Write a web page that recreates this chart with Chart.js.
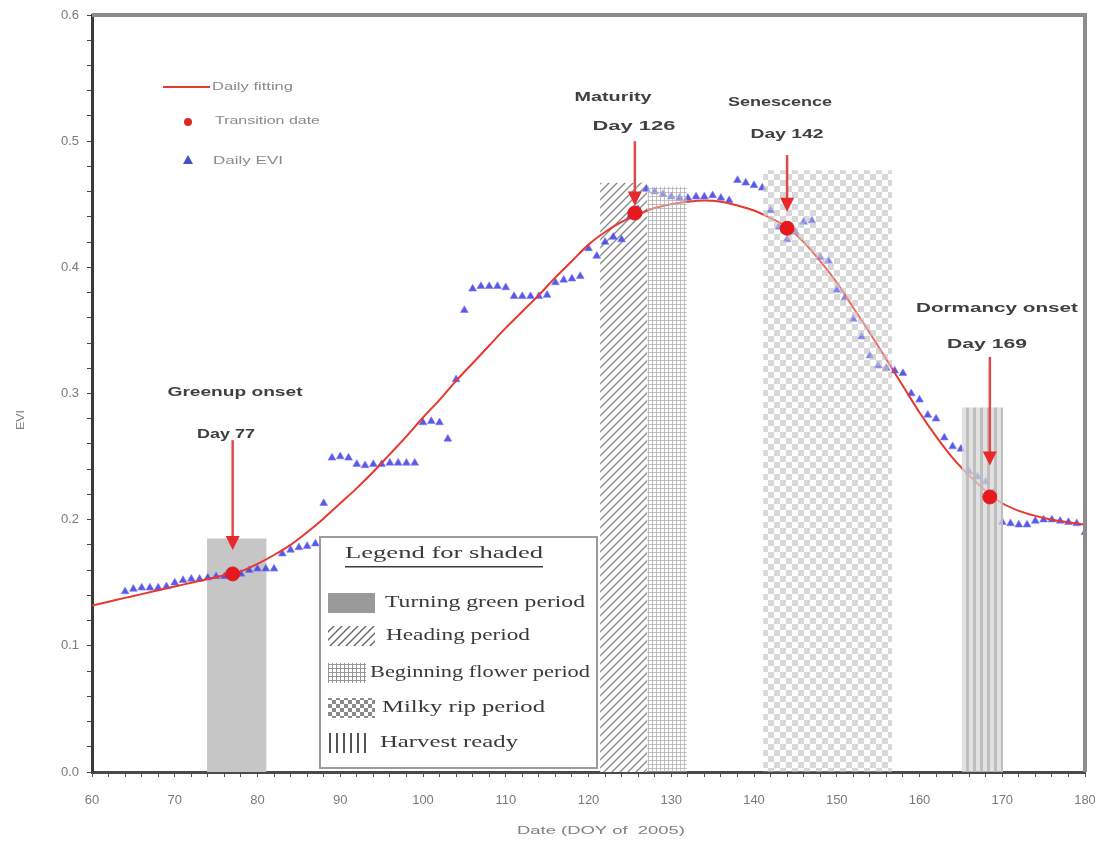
<!DOCTYPE html>
<html lang="en">
<head>
  <meta charset="UTF-8" />
  <title>EVI phenology 2005</title>
  <script src="https://cdn.jsdelivr.net/npm/chart.js"></script>
  <style>
    body { margin: 0; background: #fff; }
    #wrap { width: 1095px; height: 844px; }
  </style>
</head>
<body>

<div id="wrap">
  <canvas id="eviChart"></canvas>
</div>

<script>
// fitted daily curve (every 2 days)
const fitDays = [60,62,64,66,68,70,72,74,76,77,78,80,82,84,86,88,90,92,94,96,98,100,102,104,106,108,110,112,114,116,118,120,122,124,126,128,130,132,134,136,138,140,142,144,146,148,150,152,154,156,158,160,162,164,166,168,170,172,174,176,178,180];
const fitEVI = [0.132,0.135,0.138,0.141,0.144,0.147,0.150,0.153,0.156,0.157,0.159,0.165,0.172,0.180,0.190,0.201,0.213,0.225,0.238,0.252,0.266,0.281,0.295,0.310,0.324,0.338,0.352,0.365,0.378,0.392,0.405,0.418,0.428,0.436,0.442,0.447,0.450,0.452,0.453,0.452,0.449,0.445,0.439,0.432,0.420,0.405,0.388,0.368,0.348,0.327,0.306,0.285,0.266,0.249,0.235,0.223,0.213,0.207,0.203,0.200,0.198,0.196];

// daily EVI observations
const eviDays = [64,65,66,67,68,69,70,71,72,73,74,75,76,77,78,79,80,81,82,83,84,85,86,87,88,89,90,91,92,93,94,95,96,97,98,99,100,101,102,103,104,105,106,107,108,109,110,111,112,113,114,115,116,117,118,119,120,121,122,123,124,125,126,127,128,129,130,131,132,133,134,135,136,137,138,139,140,141,142,143,144,145,146,147,148,149,150,151,152,153,154,155,156,157,158,159,160,161,162,163,164,165,166,167,168,169,170,171,172,173,174,175,176,177,178,179,180];
const eviValues = [0.143,0.145,0.146,0.146,0.146,0.147,0.150,0.152,0.153,0.153,0.154,0.155,0.155,0.156,0.157,0.160,0.161,0.161,0.161,0.173,0.176,0.178,0.179,0.181,0.213,0.249,0.250,0.249,0.244,0.243,0.244,0.244,0.245,0.245,0.245,0.245,0.277,0.278,0.277,0.264,0.311,0.366,0.383,0.385,0.385,0.385,0.384,0.377,0.377,0.377,0.377,0.378,0.388,0.390,0.391,0.393,0.415,0.409,0.420,0.424,0.422,0.440,0.446,0.462,0.460,0.458,0.456,0.455,0.455,0.456,0.456,0.457,0.455,0.453,0.469,0.467,0.465,0.463,0.445,0.432,0.422,0.428,0.436,0.437,0.408,0.405,0.382,0.376,0.359,0.345,0.330,0.322,0.320,0.318,0.316,0.300,0.295,0.283,0.280,0.265,0.258,0.256,0.238,0.234,0.230,0.222,0.198,0.197,0.196,0.196,0.199,0.200,0.200,0.199,0.198,0.197,0.190];

// transition dates
const transitionNames = ['Greenup onset', 'Maturity', 'Senescence', 'Dormancy onset'];
const transitionLabels = ['Day 77', 'Day 126', 'Day 142', 'Day 169'];
const transitionDays = [77, 125.6, 144, 168.5];
const transitionEVI = [0.157, 0.443, 0.431, 0.218];
const arrowFromEVI = [0.263, 0.500, 0.489, 0.329];
const arrowToEVI = [0.176, 0.449, 0.444, 0.243];

// shaded crop periods
const periodNames = ['Turning green period', 'Heading period', 'Beginning flower period', 'Milky rip period', 'Harvest ready'];
const periodStart = [73.9, 121.4, 127.1, 141.1, 165.1];
const periodEnd = [81.1, 127.1, 131.9, 156.7, 170.1];
const periodTop = [0.185, 0.467, 0.464, 0.477, 0.289];

const xTicks = [60, 70, 80, 90, 100, 110, 120, 130, 140, 150, 160, 170, 180];

function makePattern(size, draw) {
  const c = document.createElement('canvas');
  c.width = size[0]; c.height = size[1];
  const g = c.getContext('2d');
  draw(g, size[0], size[1]);
  return g.createPattern(c, 'repeat');
}

const hatch = (dark) => makePattern([8, 8], (g, w, h) => {
  g.fillStyle = '#fff'; g.fillRect(0, 0, w, h);
  g.strokeStyle = dark ? '#666' : '#8a8a8a'; g.lineWidth = 1.4;
  g.beginPath();
  g.moveTo(-1, h + 1); g.lineTo(w + 1, -1);
  g.moveTo(-1, 1); g.lineTo(1, -1);
  g.moveTo(w - 1, h + 1); g.lineTo(w + 1, h - 1);
  g.stroke();
});
const grid = (dark) => makePattern([4, 4], (g, w, h) => {
  g.fillStyle = dark ? 'rgba(255,255,255,1)' : 'rgba(255,255,255,0.35)'; g.fillRect(0, 0, w, h);
  g.fillStyle = dark ? '#999' : 'rgba(170,170,170,0.7)';
  g.fillRect(0, 0, w, 1); g.fillRect(0, 0, 1, h);
});
const checker = (dark) => makePattern([dark ? 8 : 12, dark ? 8 : 12], (g, w, h) => {
  g.fillStyle = dark ? '#fff' : 'rgba(255,255,255,0.25)'; g.fillRect(0, 0, w, h);
  g.fillStyle = dark ? '#8a8a8a' : 'rgba(190,190,190,0.6)';
  g.fillRect(0, 0, w / 2, h / 2); g.fillRect(w / 2, h / 2, w / 2, h / 2);
});
const stripes = (dark) => makePattern([7, 4], (g, w, h) => {
  g.fillStyle = dark ? '#fff' : 'rgba(215,215,215,0.75)'; g.fillRect(0, 0, w, h);
  g.fillStyle = dark ? '#555' : 'rgba(185,185,185,0.85)';
  g.fillRect(0, 0, dark ? 2 : 3, h);
});

const plotFills = ['#c6c6c6', hatch(false), grid(false), checker(false), stripes(false)];
const legendFills = ['#9a9a9a', hatch(true), grid(true), checker(true), stripes(true)];
// heading and turning green sit under the data, the rest over it
const periodOrder = [10, 10, 1, 1, 1];

function fitText(ctx, text, x, y, font, width, align) {
  ctx.save();
  ctx.font = font;
  const s = width / ctx.measureText(text).width;
  ctx.translate(x, y);
  ctx.scale(s, 1);
  ctx.textAlign = align;
  ctx.textBaseline = 'middle';
  ctx.fillText(text, 0, 0);
  ctx.restore();
}

const periodSets = periodNames.map((name, i) => ({
  type: 'line',
  label: name,
  data: [{ x: periodStart[i], y: periodTop[i] }, { x: periodEnd[i], y: periodTop[i] }],
  fill: 'origin',
  backgroundColor: plotFills[i],
  borderWidth: 0,
  pointRadius: 0,
  order: periodOrder[i]
}));

// label spots (canvas pixels) for the transition annotations
const labelSpots = [
  [[235, 393, 135], [226, 435, 58]],
  [[613, 98, 77], [634, 127, 83]],
  [[780, 103, 104], [787, 135, 73]],
  [[997, 309, 162], [987, 345, 80]]
];

const decorations = {
  id: 'decorations',
  afterDatasetsDraw(chart) {
    const ctx = chart.ctx;
    const xs = chart.scales.x, ys = chart.scales.y;
    const a = chart.chartArea;

    // frame top and right
    ctx.save();
    ctx.strokeStyle = '#8c8c8c';
    ctx.lineWidth = 4;
    ctx.beginPath();
    ctx.moveTo(a.left, a.top); ctx.lineTo(a.right, a.top); ctx.lineTo(a.right, a.bottom);
    ctx.stroke();
    ctx.restore();

    // arrows and labels
    transitionDays.forEach((d, i) => {
      const px = xs.getPixelForValue(d);
      const y0 = ys.getPixelForValue(arrowFromEVI[i]);
      const y1 = ys.getPixelForValue(arrowToEVI[i]);
      ctx.save();
      ctx.strokeStyle = '#e24a4a';
      ctx.fillStyle = '#e8282a';
      ctx.lineWidth = 2.5;
      ctx.beginPath();
      ctx.moveTo(px, y0); ctx.lineTo(px, y1 - 12);
      ctx.stroke();
      ctx.beginPath();
      ctx.moveTo(px - 7, y1 - 14); ctx.lineTo(px + 7, y1 - 14); ctx.lineTo(px, y1);
      ctx.closePath();
      ctx.fill();
      ctx.fillStyle = '#404040';
      const s = labelSpots[i];
      fitText(ctx, transitionNames[i], s[0][0], s[0][1], 'bold 12px "Liberation Sans"', s[0][2], 'center');
      fitText(ctx, transitionLabels[i], s[1][0], s[1][1], 'bold 12px "Liberation Sans"', s[1][2], 'center');
      ctx.restore();
    });

    // top-left legend
    ctx.save();
    ctx.strokeStyle = '#e03c30';
    ctx.lineWidth = 2;
    ctx.beginPath(); ctx.moveTo(163, 87); ctx.lineTo(210, 87); ctx.stroke();
    ctx.fillStyle = '#d82a2a';
    ctx.beginPath(); ctx.arc(188, 122, 4, 0, Math.PI * 2); ctx.fill();
    ctx.fillStyle = '#4850c8';
    ctx.beginPath(); ctx.moveTo(188, 155); ctx.lineTo(193, 164); ctx.lineTo(183, 164); ctx.closePath(); ctx.fill();
    ctx.fillStyle = '#8a8a8a';
    fitText(ctx, 'Daily fitting', 212, 87, '10px "Liberation Sans"', 81, 'left');
    fitText(ctx, 'Transition date', 215, 121, '10px "Liberation Sans"', 105, 'left');
    fitText(ctx, 'Daily EVI', 213, 161, '10px "Liberation Sans"', 70, 'left');
    ctx.restore();

    // legend for shaded periods
    ctx.save();
    ctx.fillStyle = '#fff';
    ctx.fillRect(320, 537, 277, 231);
    ctx.strokeStyle = '#9c9c9c';
    ctx.lineWidth = 2;
    ctx.strokeRect(320, 537, 277, 231);
    ctx.fillStyle = '#3a3a3a';
    fitText(ctx, 'Legend for shaded', 444, 554, '17px "Liberation Serif"', 198, 'center');
    ctx.fillRect(345, 566, 198, 1.5);
    const rowY = [603, 636, 673, 708, 743];
    const swW = [47, 47, 38, 47, 42];
    const txtX = [385, 386, 370, 382, 380];
    const txtW = [200, 144, 220, 163, 138];
    periodNames.forEach((name, i) => {
      ctx.fillStyle = legendFills[i];
      ctx.fillRect(328, rowY[i] - 10, swW[i], 20);
      ctx.fillStyle = '#3a3a3a';
      fitText(ctx, name, txtX[i], rowY[i], '17px "Liberation Serif"', txtW[i], 'left');
    });
    ctx.restore();

    // axis titles
    ctx.save();
    ctx.fillStyle = '#808080';
    fitText(ctx, 'Date (DOY of  2005)', 601, 831, '11px "Liberation Sans"', 168, 'center');
    ctx.translate(21, 420);
    ctx.rotate(-Math.PI / 2);
    fitText(ctx, 'EVI', 0, 0, '11px "Liberation Sans"', 20, 'center');
    ctx.restore();
  }
};

new Chart(document.getElementById('eviChart'), {
  type: 'line',
  data: {
    datasets: [
      {
        label: 'Transition date',
        type: 'scatter',
        data: transitionDays.map((d, i) => ({ x: d, y: transitionEVI[i] })),
        backgroundColor: '#e5191e',
        borderColor: '#e5191e',
        pointRadius: 7,
        order: -2
      },
      {
        label: 'Daily fitting',
        data: fitDays.map((d, i) => ({ x: d, y: fitEVI[i] })),
        borderColor: '#e8382e',
        borderWidth: 2,
        pointRadius: 0,
        cubicInterpolationMode: 'monotone',
        fill: false,
        order: 2
      },
      {
        label: 'Daily EVI',
        type: 'scatter',
        data: eviDays.map((d, i) => ({ x: d, y: eviValues[i] })),
        pointStyle: 'triangle',
        pointRadius: 4.5,
        backgroundColor: 'rgba(60,60,225,0.85)',
        borderColor: 'rgba(120,120,255,0.6)',
        borderWidth: 1,
        order: 3
      },
      ...periodSets
    ]
  },
  options: {
    responsive: true,
    maintainAspectRatio: false,
    animation: false,
    layout: { padding: { top: 15, right: 10, left: 0, bottom: 0 } },
    plugins: { legend: { display: false }, tooltip: { enabled: false } },
    scales: {
      x: {
        type: 'linear',
        min: 60,
        max: 180,
        afterBuildTicks: (scale) => {
          const t = [];
          for (let v = 60; v <= 180; v += 2) t.push({ value: v });
          scale.ticks = t;
        },
        afterFit: (scale) => {
          scale.height = 72;
          scale.paddingLeft = 0;
          scale.paddingRight = 0;
        },
        border: { color: '#4a4a4a', width: 3 },
        grid: { drawOnChartArea: false, tickLength: 5, tickColor: '#555' },
        ticks: {
          autoSkip: false,
          maxRotation: 0,
          padding: 16,
          color: '#7a7a7a',
          font: { family: 'Liberation Sans', size: 13 },
          callback: (v) => xTicks.includes(v) ? String(v) : ''
        }
      },
      y: {
        min: 0,
        max: 0.6,
        afterBuildTicks: (scale) => {
          const t = [];
          for (let k = 0; k <= 30; k++) t.push({ value: k * 0.02 });
          scale.ticks = t;
        },
        afterFit: (scale) => {
          scale.width = 92;
          scale.paddingTop = 0;
          scale.paddingBottom = 0;
        },
        border: { color: '#3a3a3a', width: 3 },
        grid: { drawOnChartArea: false, tickLength: 5, tickColor: '#444' },
        ticks: {
          autoSkip: false,
          padding: 8,
          color: '#7a7a7a',
          font: { family: 'Liberation Sans', size: 13 },
          callback: (v) => {
            const k = Math.round(v * 50);
            return k % 5 === 0 ? (k / 50).toFixed(1) : '';
          }
        }
      }
    }
  },
  plugins: [decorations]
});
</script>

</body>
</html>
